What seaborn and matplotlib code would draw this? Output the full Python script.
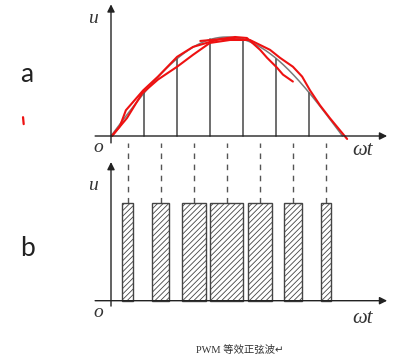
import numpy as np
import pandas as pd
import matplotlib
matplotlib.use("Agg")
import matplotlib.pyplot as plt
import seaborn as sns

# chart data (x in pulse-period units, 7 periods over half a sine wave)
n_pulses = 7
pulse_centers = [0.5, 1.5, 2.5, 3.5, 4.5, 5.5, 6.5]
pulse_widths = [0.33, 0.52, 0.73, 1.0, 0.73, 0.53, 0.31]
pulse_height = [1.0, 1.0, 1.0, 1.0, 1.0, 1.0, 1.0]
divider_x = [1, 2, 3, 4, 5, 6]

# red hand-drawn strokes on top of the sine
red1_x = [0.03, 0.27, 0.45, 0.97, 1.42, 2.0, 2.48, 2.99, 3.30, 3.75, 4.11, 4.51, 4.72, 5.02, 5.20, 5.50]
red1_y = [0.0, 0.10, 0.26, 0.46, 0.60, 0.80, 0.90, 0.95, 0.98, 1.0, 0.99, 0.87, 0.79, 0.69, 0.62, 0.55]
red2_x = [0.03, 0.48, 0.94, 1.42, 2.0, 2.48, 2.99, 3.60, 4.20, 4.81, 5.11, 5.50, 5.78, 6.02, 6.32, 6.62, 7.14]
red2_y = [0.0, 0.18, 0.43, 0.57, 0.70, 0.82, 0.94, 0.97, 0.97, 0.87, 0.79, 0.70, 0.60, 0.46, 0.31, 0.18, -0.03]
red3_x = [2.7, 3.2, 3.7, 4.1]
red3_y = [0.96, 0.975, 0.98, 0.97]

caption = "PWM 等效正弦波↵"

sns.set_style("white")
plt.rcParams['hatch.linewidth'] = 0.6

W, H = 394, 360
fig = plt.figure(figsize=(W / 100, H / 100), dpi=100)

# pixel geometry of the drawing
x0_px, unit_px = 111, 33.07
xlim = (-x0_px / unit_px, (W - x0_px) / unit_px)


def make_axes(base_px, yunit_px):
    ax = fig.add_axes([0, 0, 1, 1])
    ax.set_xlim(*xlim)
    ax.set_ylim((base_px - H) / yunit_px, base_px / yunit_px)
    ax.set_axis_off()
    ax.patch.set_alpha(0)
    return ax


ax_top = make_axes(136, 99)
ax_bot = make_axes(300.7, 98)

axis_col = "#222222"
arrow = dict(arrowstyle='-|>', color=axis_col, lw=1.0, mutation_scale=11, shrinkA=0, shrinkB=0)
label_font = dict(family='Liberation Serif', style='italic', color='#333333')

# ---- top panel: sine wave with divisions
t = np.linspace(0, n_pulses, 300)
sine = pd.DataFrame({"x": t, "y": np.sin(np.pi * t / n_pulses)})
sns.lineplot(data=sine, x="x", y="y", ax=ax_top, color="#7a7a7a", lw=1.1, legend=False)
for xd in divider_x:
    ax_top.plot([xd, xd], [0, np.sin(np.pi * xd / n_pulses)], color="#555555", lw=1.2)

ax_top.annotate('', xy=(8.35, 0), xytext=(-0.48, 0), arrowprops=arrow)
ax_top.annotate('', xy=(0, 1.33), xytext=(0, -0.07), arrowprops=arrow)

for rx, ry in [(red1_x, red1_y), (red2_x, red2_y), (red3_x, red3_y)]:
    sns.lineplot(x=rx, y=ry, ax=ax_top, color="#ee1111", lw=1.5, sort=False,
                 estimator=None, legend=False)
    ax_top.lines[-1].set_solid_joinstyle('round')
ax_top.plot([-2.66, -2.64], [0.19, 0.12], color="#ee1111", lw=1.6, solid_capstyle='round')

ax_top.text(-0.54, 1.19, "u", fontsize=14, ha='center', va='center', **label_font)
ax_top.text(-0.39, -0.12, "o", fontsize=14, ha='center', va='center', **label_font)
ax_top.text(7.62, -0.15, "ωt", fontsize=15, ha='center', va='center', **label_font)

# ---- bottom panel: PWM pulses
ax_bot.bar(pulse_centers, pulse_height, width=pulse_widths, color="white",
           edgecolor="#444444", hatch="//////", lw=1.0, zorder=3)
for xc in pulse_centers:
    ax_bot.plot([xc, xc], [1.0, 1.61], color="#555555", lw=1.0, ls=(0, (4, 4)))

ax_bot.annotate('', xy=(8.35, 0), xytext=(-0.48, 0), arrowprops=arrow)
ax_bot.annotate('', xy=(0, 1.415), xytext=(0, -0.055), arrowprops=arrow)

ax_bot.text(-0.54, 1.18, "u", fontsize=14, ha='center', va='center', **label_font)
ax_bot.text(-0.39, -0.125, "o", fontsize=14, ha='center', va='center', **label_font)
ax_bot.text(7.62, -0.18, "ωt", fontsize=15, ha='center', va='center', **label_font)

# panel letters and caption
fig.text(27 / W, 1 - 75 / H, "a", fontsize=19, family='Lato', ha='center', va='center', color='#222222')
fig.text(27 / W, 1 - 248 / H, "b", fontsize=19, family='Lato', ha='center', va='center', color='#222222')
fig.text(240 / W, 1 - 350 / H, caption, fontsize=7.5, ha='center', va='center', color='#333333',
         family=['Liberation Serif', 'Noto Sans CJK SC', 'DejaVu Sans'])

fig.savefig("out.png", dpi=100)
